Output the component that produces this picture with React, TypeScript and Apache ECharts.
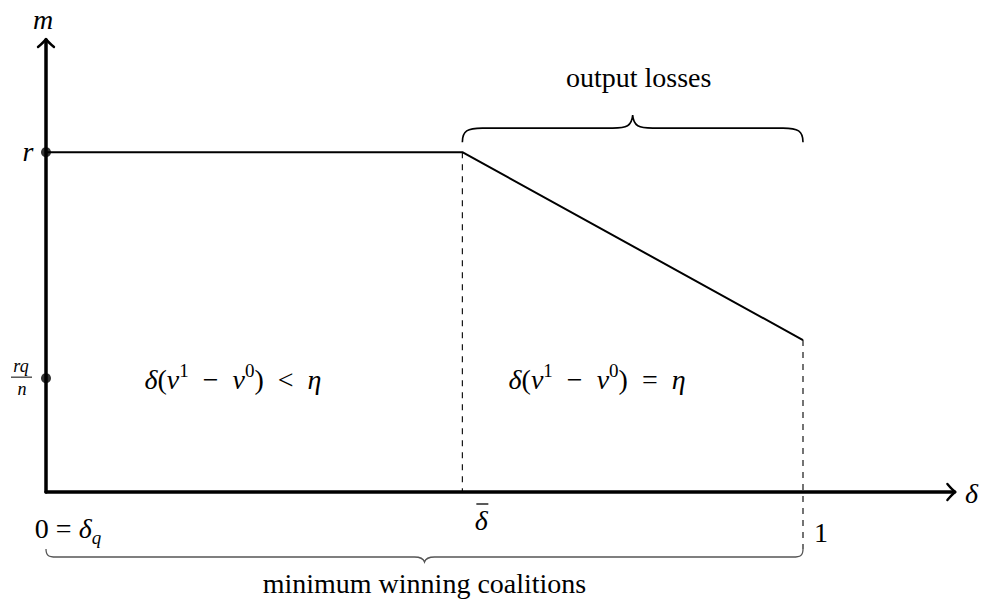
import React, { useEffect, useRef } from 'react';
import * as echarts from 'echarts';

// ---- data ----
const deltaBreaks = [0, 0.55, 1]; // δ_q = 0, δ̄, 1
const mPath = [1, 1, 0.447]; // m along the schedule at those δ
const yMarkValues = [1, 0.335]; // r, rq/n
const xLabels = ['0 = δq', 'δ', '1']; // δ gets an overbar (δ̄)
const yLabels = ['r', 'rq', 'n'];
const axisNames = ['δ', 'm'];
const regionTexts = ['δ(v¹ − v⁰) < η', 'δ(v¹ − v⁰) = η'];
const braceTexts = ['output losses', 'minimum winning coalitions'];

// ---- layout (not data) ----
const X_MAX = 1.2;
const Y_MAX = 1.33;
const regionLabelAt = [
  [0.247, 0.33],
  [0.728, 0.33],
];
const FONT = 'Liberation Serif';
const BIG = 28;
const SMALL = 19;
const SP = '\u2002';

const rich = {
  i: { fontStyle: 'italic', fontSize: BIG, fontFamily: FONT, lineHeight: 38, fill: '#000' },
  n: { fontSize: BIG, fontFamily: FONT, lineHeight: 38, fill: '#000' },
  sup: { fontSize: SMALL, fontFamily: FONT, verticalAlign: 'top', lineHeight: 21, fill: '#000' },
  sub: { fontStyle: 'italic', fontSize: SMALL, fontFamily: FONT, verticalAlign: 'bottom', lineHeight: 21, fill: '#000' },
};

function regionRich(t: string) {
  const rel = t.includes('<') ? '<' : '=';
  return `{i|δ}{n|(}{i|v}{sup|1}{n|${SP}−${SP}}{i|v}{sup|0}{n|)${SP}${rel}${SP}}{i|η}`;
}

function bracePath(x0: number, x1: number, yb: number, yl: number, yt: number, r: number) {
  const xm = (x0 + x1) / 2;
  const dir = yl < yb ? -1 : 1;
  const h = Math.abs(yl - yb);
  return [
    `M ${x0} ${yb}`,
    `C ${x0} ${yl - dir * h * 0.2} ${x0 + r * 0.25} ${yl} ${x0 + r} ${yl}`,
    `L ${xm - r} ${yl}`,
    `C ${xm - r * 0.3} ${yl} ${xm - 1} ${yl + dir * 2} ${xm} ${yt}`,
    `C ${xm + 1} ${yl + dir * 2} ${xm + r * 0.3} ${yl} ${xm + r} ${yl}`,
    `L ${x1 - r} ${yl}`,
    `C ${x1 - r * 0.25} ${yl} ${x1} ${yl - dir * h * 0.2} ${x1} ${yb}`,
  ].join(' ');
}

function txt(text: string, x: number, y: number, extra: any = {}) {
  return {
    type: 'text',
    style: {
      text,
      x,
      y,
      align: 'center',
      verticalAlign: 'middle',
      fontFamily: FONT,
      fontSize: BIG,
      fill: '#000',
      ...extra,
    },
  };
}

export default function App() {
  const ref = useRef<HTMLDivElement>(null);
  useEffect(() => {
    if (!ref.current) return;
    const chart = echarts.init(ref.current, null, { renderer: 'svg' });
    const axisCommon = {
      type: 'value',
      axisTick: { show: false },
      axisLabel: { show: false },
      splitLine: { show: false },
      axisLine: { show: true, lineStyle: { color: '#000', width: 3.5 } },
    };
    chart.setOption({
      animation: false,
      grid: { left: 46, right: 27.6, top: 40, bottom: 113, containLabel: false },
      xAxis: { ...axisCommon, min: 0, max: X_MAX },
      yAxis: { ...axisCommon, min: 0, max: Y_MAX },
      series: [
        {
          type: 'line',
          data: deltaBreaks.map((d, i) => [d, mPath[i]]),
          symbol: 'none',
          lineStyle: { color: '#000', width: 2 },
          z: 3,
        },
        {
          type: 'scatter',
          data: yMarkValues.map((v) => [0, v]),
          symbolSize: 10,
          itemStyle: { color: '#000' },
          clip: false,
          z: 5,
        },
        {
          type: 'custom',
          coordinateSystem: 'cartesian2d',
          data: [[0, 0]],
          clip: false,
          z: 4,
          renderItem: (_params: any, api: any) => {
            const o = api.coord([0, 0]);
            const pBar = api.coord([deltaBreaks[1], mPath[1]]);
            const pBarAxis = api.coord([deltaBreaks[1], 0]);
            const pEnd = api.coord([deltaBreaks[2], mPath[2]]);
            const pOneAxis = api.coord([deltaBreaks[2], 0]);
            const xTip = api.coord([X_MAX, 0]);
            const yTip = api.coord([0, Y_MAX]);
            const pR = api.coord([0, yMarkValues[0]]);
            const pRQ = api.coord([0, yMarkValues[1]]);
            const rl0 = api.coord(regionLabelAt[0]);
            const rl1 = api.coord(regionLabelAt[1]);
            const dash = { stroke: '#000', lineWidth: 1.1, lineDash: [6, 6] };
            const braceBottomY = o[1] + 57;
            const topMid = (pBar[0] + pOneAxis[0]) / 2;
            const botMid = (o[0] + pOneAxis[0]) / 2;
            const children: any[] = [
              { type: 'line', shape: { x1: pBar[0], y1: pBar[1], x2: pBarAxis[0], y2: pBarAxis[1] }, style: dash },
              { type: 'line', shape: { x1: pEnd[0], y1: pEnd[1], x2: pEnd[0], y2: braceBottomY }, style: dash },
              {
                type: 'path',
                shape: {
                  pathData: `M ${xTip[0] - 7} ${xTip[1] - 8} Q ${xTip[0] - 2} ${xTip[1] - 2} ${xTip[0] + 1} ${xTip[1]} Q ${xTip[0] - 2} ${xTip[1] + 2} ${xTip[0] - 7} ${xTip[1] + 8}`,
                },
                style: { stroke: '#000', fill: 'none', lineWidth: 2.4, lineCap: 'round', lineJoin: 'round' },
              },
              {
                type: 'path',
                shape: {
                  pathData: `M ${yTip[0] - 8} ${yTip[1] + 7} Q ${yTip[0] - 2} ${yTip[1] + 2} ${yTip[0]} ${yTip[1] - 1} Q ${yTip[0] + 2} ${yTip[1] + 2} ${yTip[0] + 8} ${yTip[1] + 7}`,
                },
                style: { stroke: '#000', fill: 'none', lineWidth: 2.4, lineCap: 'round', lineJoin: 'round' },
              },
              {
                type: 'path',
                shape: { pathData: bracePath(pBar[0], pOneAxis[0], pBar[1] - 10, pBar[1] - 24, pBar[1] - 37, 20) },
                style: { stroke: '#000', fill: 'none', lineWidth: 1.6 },
              },
              {
                type: 'path',
                shape: { pathData: bracePath(o[0], pOneAxis[0], braceBottomY, o[1] + 65, o[1] + 70, 10) },
                style: { stroke: '#555', fill: 'none', lineWidth: 1.3 },
              },
              txt(braceTexts[0], topMid + 6, pBar[1] - 75),
              txt(braceTexts[1], botMid, o[1] + 91),
              txt(regionRich(regionTexts[0]), rl0[0], rl0[1], { rich }),
              txt(regionRich(regionTexts[1]), rl1[0], rl1[1], { rich }),
              txt(axisNames[0], xTip[0] + 17, xTip[1] + 1, { fontStyle: 'italic' }),
              txt(axisNames[1], yTip[0] - 3, yTip[1] - 21, { fontStyle: 'italic' }),
              txt(`{n|0 = }{i|δ}{sub|q}`, o[0] + 22, o[1] + 36, { rich }),
              txt(xLabels[1], pBarAxis[0] + 19, pBarAxis[1] + 28, { fontStyle: 'italic' }),
              { type: 'line', shape: { x1: pBarAxis[0] + 14, y1: pBarAxis[1] + 12, x2: pBarAxis[0] + 26, y2: pBarAxis[1] + 12 }, style: { stroke: '#000', lineWidth: 1.3 } },
              txt(xLabels[2], pOneAxis[0] + 18, pOneAxis[1] + 40),
              txt(yLabels[0], pR[0] - 18, pR[1] - 1, { fontStyle: 'italic' }),
              txt(yLabels[1], pRQ[0] - 25, pRQ[1] - 12, { fontStyle: 'italic', fontSize: 18 }),
              { type: 'line', shape: { x1: pRQ[0] - 35, y1: pRQ[1] - 1, x2: pRQ[0] - 14, y2: pRQ[1] - 1 }, style: { stroke: '#000', lineWidth: 1 } },
              txt(yLabels[2], pRQ[0] - 24, pRQ[1] + 11, { fontStyle: 'italic', fontSize: 18 }),
            ];
            return { type: 'group', children };
          },
        },
      ],
    });
    return () => chart.dispose();
  }, []);
  return (
    <div
      ref={ref}
      style={{ position: 'absolute', left: 0, top: 0, width: 982, height: 605 }}
    />
  );
}
